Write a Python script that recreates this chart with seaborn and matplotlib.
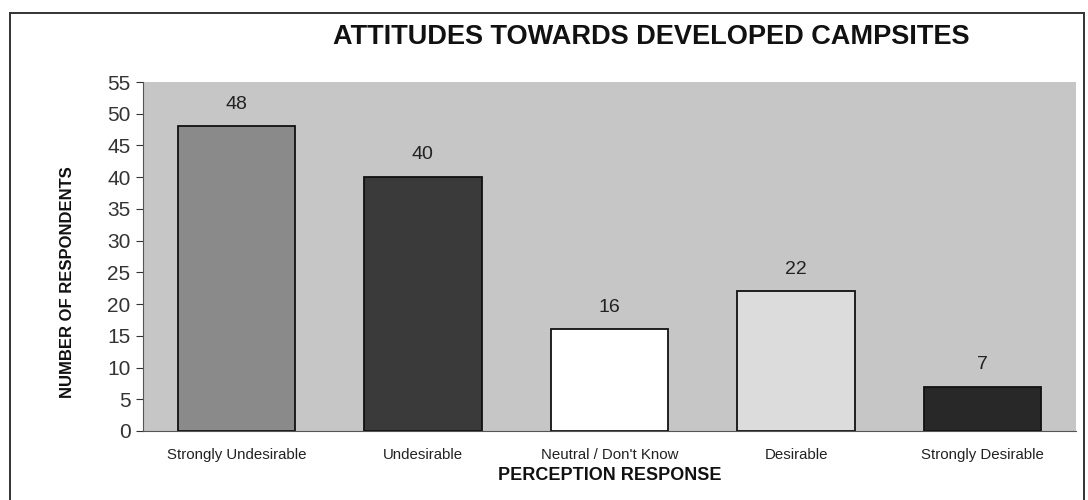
import matplotlib
matplotlib.use("Agg")
import matplotlib.pyplot as plt
import seaborn as sns
import pandas as pd
from matplotlib.patches import Rectangle

# data
categories = ["Strongly Undesirable", "Undesirable", "Neutral / Don't Know",
              "Desirable", "Strongly Desirable"]
respondents = [48, 40, 16, 22, 7]
bar_colors = ["#8a8a8a", "#3a3a3a", "#ffffff", "#dcdcdc", "#282828"]
y_ticks = list(range(0, 56, 5))

sns.set_theme(style="white")
plt.rcParams["font.family"] = ["Liberation Sans", "DejaVu Sans"]

df = pd.DataFrame({"response": categories, "n": respondents})

fig = plt.figure(figsize=(10.88, 5.0), dpi=100)
ax = fig.add_axes([143 / 1088, 1 - 431 / 500, (1076 - 143) / 1088, (431 - 82) / 500])

sns.barplot(data=df, x="response", y="n", hue="response", order=categories,
            hue_order=categories, palette=bar_colors, width=0.63,
            edgecolor="#111111", linewidth=1.3, saturation=1, legend=False, ax=ax)

ax.set_facecolor("#c6c6c6")
ax.set_xlim(-0.5, len(categories) - 0.5)
ax.set_ylim(0, 55)
ax.set_yticks(y_ticks)
ax.tick_params(axis="y", labelsize=15, length=5, width=0.8, colors="#333333",
               left=True, pad=4)
ax.tick_params(axis="x", labelsize=10.8, length=0, pad=12, colors="#222222")
for s in ["top", "right"]:
    ax.spines[s].set_visible(False)
for s in ["left", "bottom"]:
    ax.spines[s].set_color("#555555")
    ax.spines[s].set_linewidth(0.8)

for cont in ax.containers:
    ax.bar_label(cont, padding=10, fontsize=14, color="#222222")

ax.set_xlabel("PERCEPTION RESPONSE", fontsize=13, fontweight="bold",
              labelpad=4, color="#111111")
ax.set_ylabel("NUMBER OF RESPONDENTS", fontsize=12, fontweight="bold",
              color="#111111")
ax.yaxis.set_label_coords(-0.073, 0.427)

fig.text(651 / 1088, 1 - 37 / 500, "ATTITUDES TOWARDS DEVELOPED CAMPSITES",
         ha="center", va="center", fontsize=19.5, fontweight="bold", color="#111111")

# outer frame around the whole chart (runs off the bottom edge)
fig.patches.append(Rectangle((10 / 1088, -0.05), 1074 / 1088, 1.05 - 13 / 500,
                             transform=fig.transFigure, fill=False,
                             edgecolor="#333333", linewidth=1.4))

fig.savefig("out.png", dpi=100, facecolor="white")
